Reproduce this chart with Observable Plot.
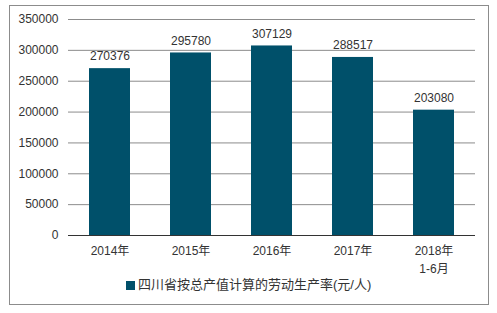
<!DOCTYPE html>
<html><head><meta charset="utf-8">
<script src="https://cdn.jsdelivr.net/npm/d3@7"></script>
<script src="https://cdn.jsdelivr.net/npm/@observablehq/plot@0.6"></script>
<style>
body{margin:0;background:#fff;font-family:"Liberation Sans","Noto Sans CJK SC",sans-serif;}
#frame{position:absolute;left:9px;top:5px;width:478px;height:298px;border:1px solid #8c8c8c;}
#chart{position:absolute;left:0;top:0;}
#legend{position:absolute;left:116px;top:271px;height:16px;line-height:16px;font-size:13px;color:#333;white-space:nowrap;}
#legend .sw{display:inline-block;width:9px;height:9px;margin-right:3px;vertical-align:-0.5px;}
</style></head><body>
<div id="frame"><div id="chart"></div><div id="legend"></div></div>
<script>
const categories = ["2014年","2015年","2016年","2017年","2018年\n1-6月"];
const values = [270376, 295780, 307129, 288517, 203080];
const yTicks = [0, 50000, 100000, 150000, 200000, 250000, 300000, 350000];
const seriesName = "四川省按总产值计算的劳动生产率(元/人)";
const barColor = "#00506a";

const data = categories.map((c, i) => ({category: c, value: values[i]}));

const chart = Plot.plot({
  width: 478,
  height: 270,
  marginLeft: 58,
  marginRight: 13,
  marginTop: 13,
  marginBottom: 41,
  style: {fontFamily: '"Liberation Sans","Noto Sans CJK SC",sans-serif', fontSize: "12px", color: "#333", background: "transparent"},
  x: {domain: categories, paddingInner: 0.5, paddingOuter: 0.25, label: null},
  y: {domain: [0, 350000], label: null},
  marks: [
    Plot.ruleY(yTicks, {stroke: "#8c8c8c", strokeWidth: 1}),
    Plot.barY(data, {x: "category", y: "value", fill: barColor}),
    Plot.ruleY([0], {stroke: "#333", strokeWidth: 1}),
    Plot.text(data, {x: "category", y: "value", text: d => String(d.value), dy: -12, lineAnchor: "middle", fontSize: 12, fill: "#333"}),
    Plot.axisY({ticks: yTicks, tickSize: 0, tickPadding: 10, tickFormat: d => String(d), label: null, fill: "#333"}),
    Plot.axisX({tickSize: 0, tickPadding: 7, label: null, fill: "#333", lineHeight: 1.5})
  ]
});
document.getElementById("chart").appendChild(chart);

const lg = document.getElementById("legend");
const sw = document.createElement("span");
sw.className = "sw";
sw.style.background = barColor;
lg.appendChild(sw);
lg.appendChild(document.createTextNode(seriesName));
</script>
</body></html>
